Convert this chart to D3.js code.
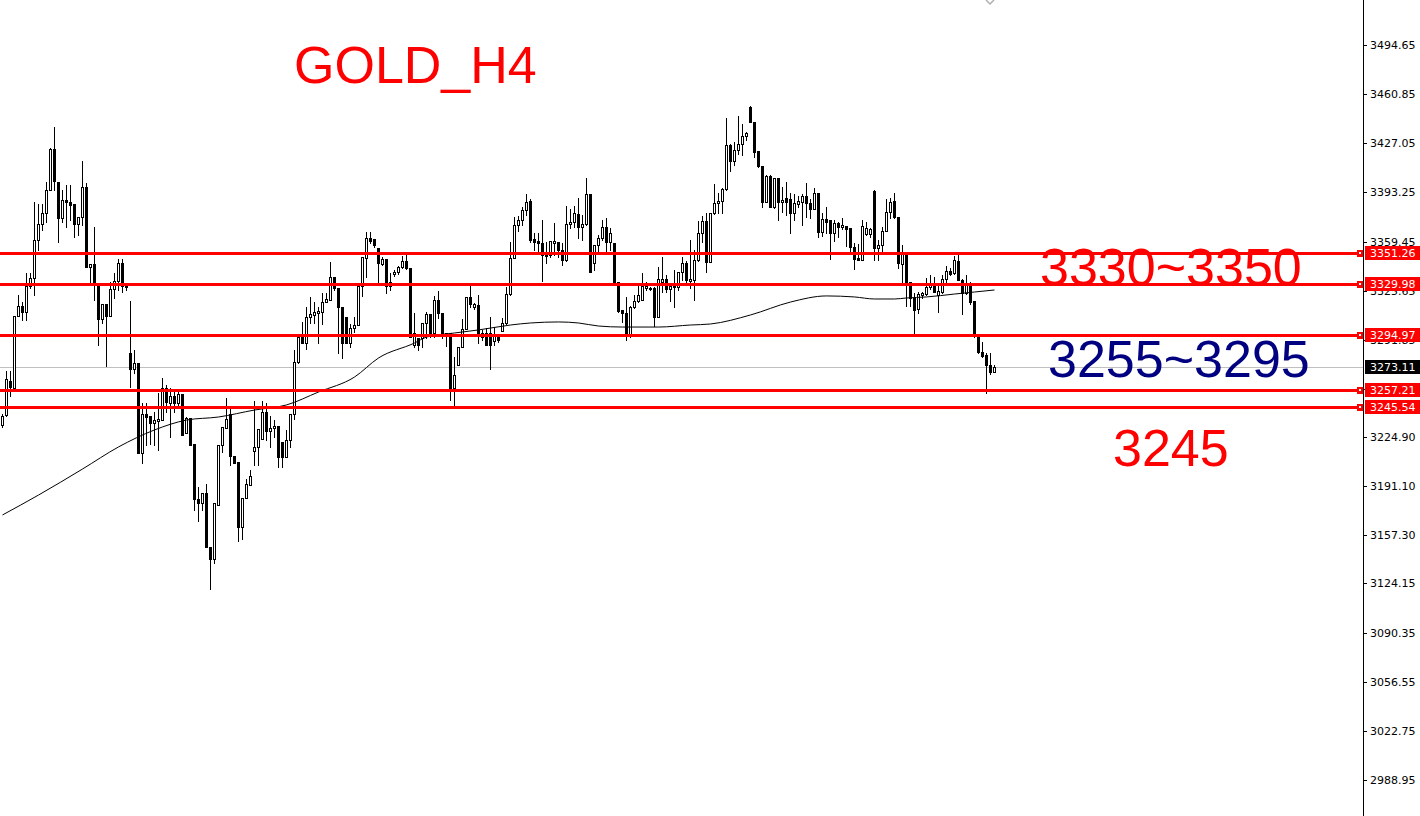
<!DOCTYPE html>
<html><head><meta charset="utf-8">
<script src="https://cdn.jsdelivr.net/npm/d3@7"></script>
<style>html,body{margin:0;padding:0;background:#fff;overflow:hidden}</style>
</head><body>
<svg id="c" width="1420" height="816"></svg>
<script>
const openP=[
3233.2,3240.1,3263.5,3258.7,3308.2,3315.1,3310.9,3328.8,3334.3,3360.5,
3371.5,3379.1,3394.9,3423.1,3400.4,3375.6,3388.0,3386.6,3385.3,3371.5,
3376.3,3396.9,3341.9,3344.0,3330.2,3306.1,3316.5,3308.2,3326.8,3332.3,
3344.7,3328.1,3282.7,3271.7,3275.9,3213.9,3240.8,3239.4,3234.6,3236.0,
3236.6,3258.7,3248.3,3253.2,3248.3,3254.5,3227.7,3238.0,3220.1,3182.3,
3179.5,3186.4,3149.3,3141.0,3178.2,3219.4,3231.1,3240.8,3211.9,3207.7,
3163.0,3183.0,3191.9,3215.3,3218.1,3223.6,3242.1,3229.1,3231.1,3232.5,
3221.5,3211.2,3222.9,3240.8,3276.5,3293.7,3289.6,3307.5,3308.9,3310.3,
3310.9,3317.8,3319.2,3335.0,3327.5,3314.4,3307.5,3289.6,3299.9,3302.0,
3328.8,3348.1,3361.9,3361.2,3355.0,3344.0,3347.4,3331.6,3337.1,3338.5,
3341.9,3346.0,3341.2,3288.2,3293.1,3293.1,3303.4,3309.6,3296.5,3319.2,
3310.3,3296.5,3296.5,3258.7,3274.5,3286.9,3299.3,3321.3,3314.4,3315.8,
3293.7,3296.5,3296.5,3291.0,3293.7,3297.9,3303.4,3323.3,3348.1,3370.8,
3374.2,3381.1,3387.3,3361.2,3359.8,3358.4,3350.2,3350.2,3358.4,3359.1,
3353.6,3346.7,3371.5,3372.9,3378.4,3369.4,3371.5,3392.1,3344.7,3357.0,
3361.9,3369.4,3359.1,3358.4,3331.6,3312.3,3310.3,3295.1,3314.4,3318.5,
3319.2,3327.5,3327.5,3327.5,3307.5,3331.6,3333.6,3326.8,3329.5,3328.1,
3338.5,3344.7,3332.3,3333.0,3346.7,3365.3,3373.6,3345.3,3379.1,3385.9,
3387.3,3395.6,3425.8,3414.8,3422.4,3426.5,3432.0,3452.0,3441.7,3421.7,
3411.4,3386.6,3404.5,3383.2,3403.1,3386.6,3389.4,3388.7,3379.1,3385.3,
3386.6,3390.8,3385.9,3381.8,3392.8,3366.0,3374.9,3374.2,3365.3,3372.2,
3369.4,3370.1,3368.7,3355.7,3348.1,3346.7,3364.6,3364.6,3394.2,3355.0,
3357.0,3366.7,3379.7,3387.3,3376.3,3344.0,3350.9,3331.6,3320.6,3313.0,
3322.6,3323.3,3328.1,3328.8,3322.6,3324.7,3333.6,3339.2,3337.8,3346.0,
3333.0,3324.0,3328.8,3318.5,3294.4,3283.4,3281.4,3274.5,3269.7];
const highP=[
3240.8,3270.4,3270.4,3308.2,3322.6,3317.8,3337.8,3337.8,3386.6,3385.3,
3385.3,3400.4,3423.8,3438.2,3400.4,3394.9,3398.3,3398.3,3385.3,3376.3,
3414.8,3399.7,3344.0,3369.4,3330.2,3316.5,3316.5,3331.6,3337.8,3347.4,
3347.4,3328.8,3318.5,3284.8,3275.9,3248.3,3248.3,3239.4,3242.1,3255.2,
3265.5,3260.7,3258.7,3255.9,3255.9,3254.5,3238.7,3238.0,3220.1,3190.5,
3186.4,3192.6,3149.3,3179.5,3219.4,3231.8,3251.8,3244.9,3211.9,3207.7,
3183.0,3196.1,3202.2,3249.7,3230.4,3249.7,3248.3,3239.4,3236.6,3232.5,
3221.5,3229.8,3240.8,3284.8,3295.1,3304.1,3314.4,3321.3,3317.8,3314.4,
3324.0,3324.0,3345.3,3335.0,3327.5,3314.4,3307.5,3302.7,3307.5,3328.8,
3348.8,3366.0,3366.0,3361.2,3355.0,3348.8,3347.4,3337.8,3339.8,3342.6,
3349.5,3350.2,3341.2,3310.3,3293.1,3303.4,3310.9,3309.6,3322.0,3325.4,
3310.3,3296.5,3296.5,3280.0,3286.9,3306.1,3321.3,3328.8,3317.1,3322.6,
3298.6,3299.9,3307.5,3300.6,3295.1,3306.8,3328.1,3359.1,3376.3,3377.0,
3383.2,3392.1,3388.7,3365.3,3365.3,3374.2,3359.1,3359.8,3372.2,3359.1,
3358.4,3383.9,3381.8,3383.9,3389.4,3377.7,3403.1,3392.1,3357.0,3363.9,
3374.2,3375.6,3368.7,3358.4,3331.6,3312.3,3321.3,3315.1,3322.6,3330.9,
3337.8,3331.6,3328.1,3328.1,3341.9,3348.8,3336.4,3330.9,3339.8,3338.5,
3348.8,3346.0,3360.5,3353.6,3373.6,3377.0,3379.1,3379.1,3399.0,3392.8,
3396.3,3444.4,3426.5,3427.9,3445.8,3440.3,3434.8,3452.7,3441.7,3421.7,
3411.4,3405.2,3405.2,3403.1,3403.1,3396.9,3400.4,3392.8,3392.1,3390.8,
3392.1,3399.7,3388.7,3396.3,3392.8,3379.1,3383.2,3374.2,3374.2,3372.9,
3375.6,3370.1,3368.7,3358.4,3357.7,3374.2,3372.9,3368.7,3394.9,3360.5,
3369.4,3388.7,3389.4,3392.8,3376.3,3357.0,3350.9,3331.6,3324.0,3324.7,
3324.7,3334.3,3336.4,3335.0,3329.5,3336.4,3342.6,3341.2,3349.5,3350.2,
3333.6,3336.4,3331.6,3318.5,3294.4,3290.3,3282.7,3282.7,3274.5];
const lowP=[
3231.8,3239.4,3253.2,3257.3,3308.2,3305.4,3305.4,3327.5,3322.6,3353.6,
3367.4,3372.9,3394.9,3394.9,3359.1,3372.9,3369.4,3374.2,3362.5,3363.9,
3370.8,3341.9,3330.9,3319.2,3288.2,3303.4,3273.8,3308.2,3320.6,3326.1,
3324.7,3326.1,3259.3,3269.0,3213.9,3207.1,3219.4,3220.1,3219.4,3216.0,
3236.6,3242.1,3224.9,3242.1,3245.6,3226.3,3227.7,3219.4,3174.7,3167.2,
3174.7,3149.3,3120.4,3138.3,3178.2,3214.6,3231.1,3205.7,3207.1,3153.4,
3154.8,3183.0,3191.9,3205.7,3205.7,3223.6,3222.9,3218.1,3224.9,3204.3,
3204.3,3211.2,3218.1,3237.3,3275.9,3289.6,3285.5,3303.4,3303.4,3289.6,
3302.7,3317.8,3319.2,3326.1,3282.7,3279.3,3289.6,3286.9,3297.2,3302.0,
3322.0,3335.0,3358.4,3355.7,3330.9,3343.3,3324.0,3326.1,3335.7,3337.1,
3341.2,3340.5,3293.7,3286.9,3284.8,3286.9,3293.1,3293.7,3293.7,3306.8,
3293.1,3287.6,3250.4,3246.3,3274.5,3286.9,3299.3,3314.4,3313.0,3289.6,
3291.7,3288.2,3271.7,3288.2,3290.3,3297.9,3302.7,3322.6,3348.1,3366.7,
3370.8,3377.7,3359.1,3353.6,3352.2,3332.3,3344.7,3348.8,3350.2,3348.8,
3343.3,3346.0,3368.7,3369.4,3361.9,3360.5,3370.8,3338.5,3339.8,3351.5,
3360.5,3352.2,3353.6,3330.9,3310.9,3304.1,3291.7,3293.7,3313.7,3317.8,
3319.2,3326.1,3326.1,3301.3,3307.5,3324.7,3324.7,3318.5,3314.4,3326.1,
3333.0,3331.6,3327.5,3319.2,3346.0,3359.1,3338.5,3345.3,3378.4,3379.1,
3379.1,3394.9,3407.9,3412.1,3419.7,3419.0,3429.3,3441.7,3417.6,3410.7,
3383.2,3386.6,3383.2,3382.5,3374.2,3379.7,3377.7,3365.3,3374.2,3383.2,
3370.8,3376.3,3375.6,3381.8,3362.5,3363.2,3365.3,3347.4,3359.8,3362.5,
3368.1,3356.4,3351.5,3340.5,3346.7,3346.7,3363.9,3362.5,3346.7,3346.7,
3352.2,3366.7,3375.6,3375.6,3341.2,3331.6,3315.1,3315.1,3295.8,3310.3,
3320.6,3322.6,3326.8,3324.7,3310.9,3324.0,3331.6,3336.4,3337.1,3333.0,
3309.6,3323.3,3316.5,3293.7,3282.7,3280.0,3255.2,3268.3,3269.7];
const closeP=[
3239.4,3264.9,3259.3,3308.2,3315.1,3310.9,3328.8,3334.3,3360.5,3371.5,
3379.1,3394.9,3423.1,3401.1,3375.6,3388.0,3386.6,3384.6,3371.5,3376.3,
3396.9,3341.9,3344.0,3330.2,3306.1,3316.5,3308.2,3326.8,3332.3,3344.7,
3328.8,3328.8,3271.7,3275.9,3213.9,3240.8,3238.7,3234.6,3236.6,3237.3,
3258.7,3249.0,3253.2,3248.3,3254.5,3226.3,3238.0,3219.4,3182.3,3179.5,
3186.4,3149.3,3141.0,3179.5,3219.4,3231.8,3237.3,3211.9,3207.1,3163.0,
3183.0,3192.6,3198.1,3218.1,3230.4,3242.1,3229.1,3231.1,3232.5,3211.2,
3211.2,3222.9,3240.8,3276.5,3293.7,3289.6,3307.5,3309.6,3310.9,3311.6,
3317.8,3319.9,3335.0,3327.5,3314.4,3289.6,3289.6,3299.9,3302.0,3328.8,
3348.8,3361.9,3359.8,3357.0,3344.7,3347.4,3328.8,3328.8,3338.5,3341.9,
3346.0,3341.2,3293.7,3296.5,3288.2,3303.4,3309.6,3296.5,3319.2,3310.3,
3296.5,3295.1,3258.7,3267.6,3286.9,3299.3,3321.3,3316.5,3316.5,3296.5,
3296.5,3288.2,3288.2,3295.1,3291.7,3303.4,3323.3,3348.1,3370.8,3374.2,
3381.1,3386.6,3360.5,3359.1,3358.4,3350.2,3349.5,3359.8,3359.8,3353.6,
3346.7,3371.5,3372.9,3379.1,3369.4,3371.5,3392.1,3338.5,3357.0,3361.9,
3369.4,3359.1,3365.3,3331.6,3311.6,3310.3,3295.1,3314.4,3318.5,3322.6,
3328.8,3328.8,3326.8,3307.5,3333.6,3333.6,3326.8,3328.8,3328.1,3338.5,
3344.7,3333.0,3333.6,3346.7,3365.3,3373.6,3345.3,3379.1,3385.9,3387.3,
3395.6,3425.8,3414.8,3422.4,3426.5,3432.0,3434.1,3441.7,3421.0,3411.4,
3386.6,3404.5,3383.2,3403.1,3386.6,3388.0,3386.6,3379.1,3385.9,3387.3,
3390.8,3385.9,3381.8,3392.8,3366.0,3374.9,3372.9,3365.3,3372.2,3369.4,
3370.8,3368.1,3355.7,3347.4,3346.7,3370.1,3368.7,3368.1,3355.0,3357.0,
3366.7,3379.7,3386.6,3376.3,3344.7,3351.5,3330.9,3320.6,3312.3,3323.3,
3324.0,3328.1,3330.9,3324.7,3325.4,3333.6,3339.2,3337.1,3346.7,3333.0,
3324.0,3330.2,3317.8,3295.1,3283.4,3280.7,3274.5,3269.7,3273.11];

// moving average readings (bar index, value)
const maIdx=[0,9,20,29,38,46,54,63,71,79,88,94,103,106,113,119,127,132,139,144,149,155,164,172,177,187,197,206,213,218,223,226,231,238,243,248];
const maVal=[3171.3,3185.0,3202.9,3218.1,3229.8,3236.6,3238.7,3243.5,3247.0,3255.9,3266.2,3279.3,3289.6,3293.7,3296.5,3298.6,3302.0,3303.4,3304.1,3303.4,3301.3,3300.6,3300.6,3302.0,3302.7,3308.9,3317.8,3322.0,3321.3,3319.9,3319.9,3320.6,3321.3,3323.3,3324.7,3326.1];

const tickLabels=["3494.65","3460.85","3427.05","3393.25","3359.45","3325.65","3291.85","3258.05","3224.90","3191.10","3157.30","3124.15","3090.35","3056.55","3022.75","2988.95"];
const levels=[3351.26,3329.98,3294.97,3257.21,3245.54];
const lastPrice=3273.11;
const titleText="GOLD_H4";
const noteTexts=["3330~3350","3255~3295","3245"];

const svg=d3.select("#c");
const W=1420,H=816,axisX=1363;
const N=closeP.length;
const x=d3.scaleLinear().domain([0,N-1]).range([2.5,2.5+4*(N-1)]);
const y=d3.scaleLinear().domain([2988.95,3494.65]).range([780,45]);
const R=v=>Math.round(y(v));

svg.append("rect").attr("width",W).attr("height",H).attr("fill","#fff");

// current price line (behind candles)
svg.append("rect").attr("x",0).attr("y",R(lastPrice)).attr("width",axisX).attr("height",1).attr("fill","#c0c0c0");

// candles
const cg=svg.append("g").attr("shape-rendering","crispEdges");
const idx=d3.range(N);
cg.selectAll("rect.wick").data(idx).join("rect").attr("class","wick")
  .attr("x",i=>x(i)-0.5).attr("y",i=>R(highP[i]))
  .attr("width",1).attr("height",i=>R(lowP[i])-R(highP[i])+1).attr("fill","#000");
idx.forEach(i=>{
  const yo=R(openP[i]), yc=R(closeP[i]);
  const left=x(i)-1.5;
  if(closeP[i]>openP[i] && yo-yc>=2){
    cg.append("rect").attr("x",left+0.5).attr("y",yc+0.5).attr("width",2).attr("height",yo-yc)
      .attr("fill","#fff").attr("stroke","#000").attr("stroke-width",1);
  } else {
    const t=Math.min(yo,yc), b=Math.max(yo,yc);
    cg.append("rect").attr("x",left).attr("y",t).attr("width",3).attr("height",b-t+1).attr("fill","#000");
  }
});

// moving average
svg.append("path").datum(d3.range(maIdx.length))
  .attr("d",d3.line().x(k=>x(maIdx[k])).y(k=>y(maVal[k])).curve(d3.curveMonotoneX))
  .attr("fill","none").attr("stroke","#000").attr("stroke-width",1);

// axis
svg.append("rect").attr("x",axisX).attr("y",0).attr("width",1).attr("height",H).attr("fill","#000");
const tg=svg.append("g");
tickLabels.forEach(t=>{
  const v=+t, ty=R(v);
  tg.append("rect").attr("x",axisX).attr("y",ty).attr("width",4).attr("height",1).attr("fill","#000");
  tg.append("text").attr("x",1370).attr("y",ty+4).text(t)
    .attr("font-family","DejaVu Sans, Verdana, sans-serif").attr("font-size",11).attr("fill","#000");
});

// level lines
levels.forEach(v=>{
  const ly=R(v);
  svg.append("rect").attr("x",0).attr("y",ly-1).attr("width",1358).attr("height",3).attr("fill","#ff0000");
  svg.append("rect").attr("x",1357).attr("y",ly-3).attr("width",6).attr("height",7).attr("fill","#ff0000");
  svg.append("rect").attr("x",1359).attr("y",ly-1).attr("width",2).attr("height",2).attr("fill","#fff");
  svg.append("rect").attr("x",1365).attr("y",ly-7).attr("width",55).attr("height",14).attr("fill","#ff0000");
  svg.append("text").attr("x",1370).attr("y",ly+4).text(v.toFixed(2))
    .attr("font-family","DejaVu Sans, Verdana, sans-serif").attr("font-size",11).attr("fill","#fff");
});
// last price label
{
  const ly=R(lastPrice);
  svg.append("rect").attr("x",1365).attr("y",ly-7).attr("width",55).attr("height",14).attr("fill","#000");
  svg.append("text").attr("x",1370).attr("y",ly+4).text(lastPrice.toFixed(2))
    .attr("font-family","DejaVu Sans, Verdana, sans-serif").attr("font-size",11).attr("fill","#fff");
}

// small marker at top
svg.append("path").attr("d","M986,0 L990,4 L994,0").attr("fill","none").attr("stroke","#b0b0b0").attr("stroke-width",1.5);

// annotations
const big={family:"Liberation Sans, Arial, sans-serif",size:52};
svg.append("text").attr("x",294).attr("y",83).text(titleText)
  .attr("font-family",big.family).attr("font-size",big.size).attr("fill","#ff0000");
svg.append("text").attr("x",1040).attr("y",285).text(noteTexts[0])
  .attr("font-family",big.family).attr("font-size",big.size).attr("fill","#ff0000");
svg.append("text").attr("x",1048).attr("y",377).text(noteTexts[1])
  .attr("font-family",big.family).attr("font-size",big.size).attr("fill","#000080");
svg.append("text").attr("x",1113).attr("y",466).text(noteTexts[2])
  .attr("font-family",big.family).attr("font-size",big.size).attr("fill","#ff0000");
</script>
</body></html>
